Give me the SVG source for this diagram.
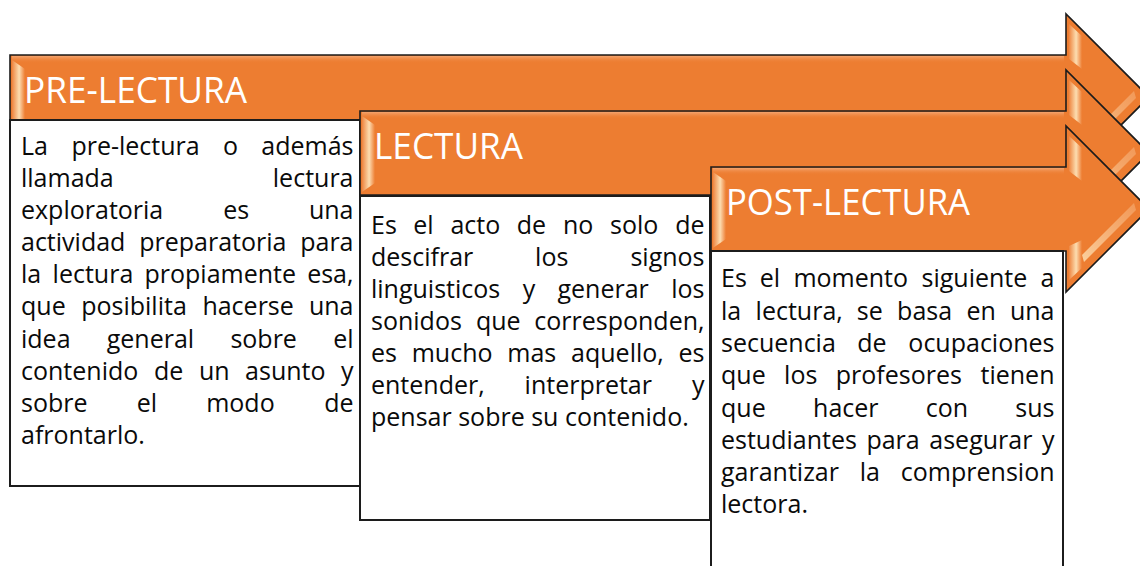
<svg xmlns="http://www.w3.org/2000/svg" width="1140" height="566" viewBox="0 0 1140 566">
<style>
.arrow{fill:#ED7D31;stroke:#1c1c1c;stroke-width:1.6;stroke-linejoin:miter}
.box{fill:#fff;stroke:#1c1c1c;stroke-width:2}
.hl{fill:url(#gH)}
.band{fill:url(#gV)}
.hd{font-family:"Open Sans","Liberation Sans",sans-serif;font-size:36px;fill:#fff}
.tx{font-family:"Open Sans","Liberation Sans",sans-serif;font-size:25px;fill:#0a0a0a}
.e{text-anchor:end}
</style>
<defs>
<linearGradient id="gH" x1="0" y1="0" x2="1" y2="0">
<stop offset="0" stop-color="#EE8540"/>
<stop offset="0.55" stop-color="#FCDDB0"/>
<stop offset="0.75" stop-color="#F6B27A"/>
<stop offset="1" stop-color="#ED7D31"/>
</linearGradient>
<linearGradient id="gV" x1="0" y1="0" x2="0" y2="1">
<stop offset="0" stop-color="#F4A46E"/>
<stop offset="1" stop-color="#ED7D31" stop-opacity="0"/>
</linearGradient>
<linearGradient id="gD" x1="0" y1="1" x2="1" y2="0">
<stop offset="0" stop-color="#FCD9AA" stop-opacity="0.9"/>
<stop offset="1" stop-color="#F7B57F" stop-opacity="0.5"/>
</linearGradient>
</defs>
<g id="connectors"/>
<g id="node-pre-lectura">
<path class="arrow" d="M10,55 H1066 V14 L1149,97 L1066,180 V139 H10 Z"/>
<rect class="band" x="12" y="56" width="1052" height="7"/>
<polygon class="hl" points="12,60 25,69 25,130 12,137"/>
<polygon class="hl" points="1069,24 1082,36 1082,69 1069,59"/>
<polygon points="1082,143 1134,91 1136,98 1084,150" fill="url(#gD)"/>
<rect class="box" x="10" y="120" width="350" height="366"/>
<text class="hd" x="24" y="103" textLength="223" lengthAdjust="spacingAndGlyphs">PRE-LECTURA</text>
<g class="tx">
<text x="21" y="155">La</text>
<text x="71.4" y="155">pre-lectura</text>
<text x="222.9" y="155">o</text>
<text class="e" x="353.5" y="155">además</text>
<text x="21" y="187">llamada</text>
<text class="e" x="353.5" y="187">lectura</text>
<text x="21" y="219">exploratoria</text>
<text x="223.3" y="219">es</text>
<text class="e" x="353.5" y="219">una</text>
<text x="21" y="251">actividad</text>
<text x="139.2" y="251">preparatoria</text>
<text class="e" x="353.5" y="251">para</text>
<text x="21" y="283">la</text>
<text x="52.6" y="283">lectura</text>
<text x="144.5" y="283">propiamente</text>
<text class="e" x="353.5" y="283">esa,</text>
<text x="21" y="315">que</text>
<text x="81.2" y="315">posibilita</text>
<text x="202.4" y="315">hacerse</text>
<text class="e" x="353.5" y="315">una</text>
<text x="21" y="348">idea</text>
<text x="106.7" y="348">general</text>
<text x="230.4" y="348">sobre</text>
<text class="e" x="353.5" y="348">el</text>
<text x="21" y="380">contenido</text>
<text x="153.9" y="380">de</text>
<text x="198.9" y="380">un</text>
<text x="245.1" y="380">asunto</text>
<text class="e" x="353.5" y="380">y</text>
<text x="21" y="412">sobre</text>
<text x="136.7" y="412">el</text>
<text x="206.2" y="412">modo</text>
<text class="e" x="353.5" y="412">de</text>
<text x="21" y="444">afrontarlo.</text>
</g>
</g>
<g id="node-lectura">
<path class="arrow" d="M360,111 H1066 V70 L1149,153 L1066,236 V195 H360 Z"/>
<rect class="band" x="362" y="112" width="702" height="7"/>
<polygon class="hl" points="362,116 375,125 375,183 362,192"/>
<polygon class="hl" points="1069,80 1082,92 1082,125 1069,115"/>
<polygon points="1082,199 1134,147 1136,154 1084,206" fill="url(#gD)"/>
<rect class="box" x="360" y="196" width="350" height="324"/>
<text class="hd" x="374" y="159" textLength="149" lengthAdjust="spacingAndGlyphs">LECTURA</text>
<g class="tx">
<text x="371" y="234">Es</text>
<text x="413.3" y="234">el</text>
<text x="450.4" y="234">acto</text>
<text x="516.8" y="234">de</text>
<text x="562.9" y="234">no</text>
<text x="610" y="234">solo</text>
<text class="e" x="704.5" y="234">de</text>
<text x="371" y="266">descifrar</text>
<text x="535.1" y="266">los</text>
<text class="e" x="704.5" y="266">signos</text>
<text x="371" y="298">linguisticos</text>
<text x="522.7" y="298">y</text>
<text x="557.5" y="298">generar</text>
<text class="e" x="704.5" y="298">los</text>
<text x="371" y="330">sonidos</text>
<text x="475.9" y="330">que</text>
<text class="e" x="704.5" y="330">corresponden,</text>
<text x="371" y="362">es</text>
<text x="411.7" y="362">mucho</text>
<text x="507.3" y="362">mas</text>
<text x="571.1" y="362">aquello,</text>
<text class="e" x="704.5" y="362">es</text>
<text x="371" y="394">entender,</text>
<text x="524.6" y="394">interpretar</text>
<text class="e" x="704.5" y="394">y</text>
<text x="371" y="426">pensar sobre su contenido.</text>
</g>
</g>
<g id="node-post-lectura">
<path class="arrow" d="M711,167 H1066 V126 L1149,209 L1066,292 V251 H711 Z"/>
<rect class="band" x="713" y="168" width="351" height="7"/>
<polygon class="hl" points="713,172 726,181 726,239 713,248"/>
<polygon class="hl" points="1069,136 1082,148 1082,181 1069,171"/>
<polygon class="hl" points="1069,246 1082,240 1082,268 1069,280"/>
<polygon points="1082,255 1134,203 1136,210 1084,262" fill="url(#gD)"/>
<rect class="box" x="711" y="251" width="352" height="330"/>
<text class="hd" x="726" y="215" textLength="244" lengthAdjust="spacingAndGlyphs">POST-LECTURA</text>
<g class="tx">
<text x="721" y="287">Es</text>
<text x="759.8" y="287">el</text>
<text x="793.4" y="287">momento</text>
<text x="921.5" y="287">siguiente</text>
<text class="e" x="1054.5" y="287">a</text>
<text x="721" y="319.5">la</text>
<text x="755.6" y="319.5">lectura,</text>
<text x="856.8" y="319.5">se</text>
<text x="897.1" y="319.5">basa</text>
<text x="966.4" y="319.5">en</text>
<text class="e" x="1054.5" y="319.5">una</text>
<text x="721" y="352">secuencia</text>
<text x="857.2" y="352">de</text>
<text class="e" x="1054.5" y="352">ocupaciones</text>
<text x="721" y="384">que</text>
<text x="784.1" y="384">los</text>
<text x="835.8" y="384">profesores</text>
<text class="e" x="1054.5" y="384">tienen</text>
<text x="721" y="416.5">que</text>
<text x="813.1" y="416.5">hacer</text>
<text x="925.8" y="416.5">con</text>
<text class="e" x="1054.5" y="416.5">sus</text>
<text x="721" y="448.5">estudiantes</text>
<text x="866.4" y="448.5">para</text>
<text x="929.3" y="448.5">asegurar</text>
<text class="e" x="1054.5" y="448.5">y</text>
<text x="721" y="481">garantizar</text>
<text x="859.7" y="481">la</text>
<text class="e" x="1054.5" y="481">comprension</text>
<text x="721" y="513">lectora.</text>
</g>
</g>
</svg>
